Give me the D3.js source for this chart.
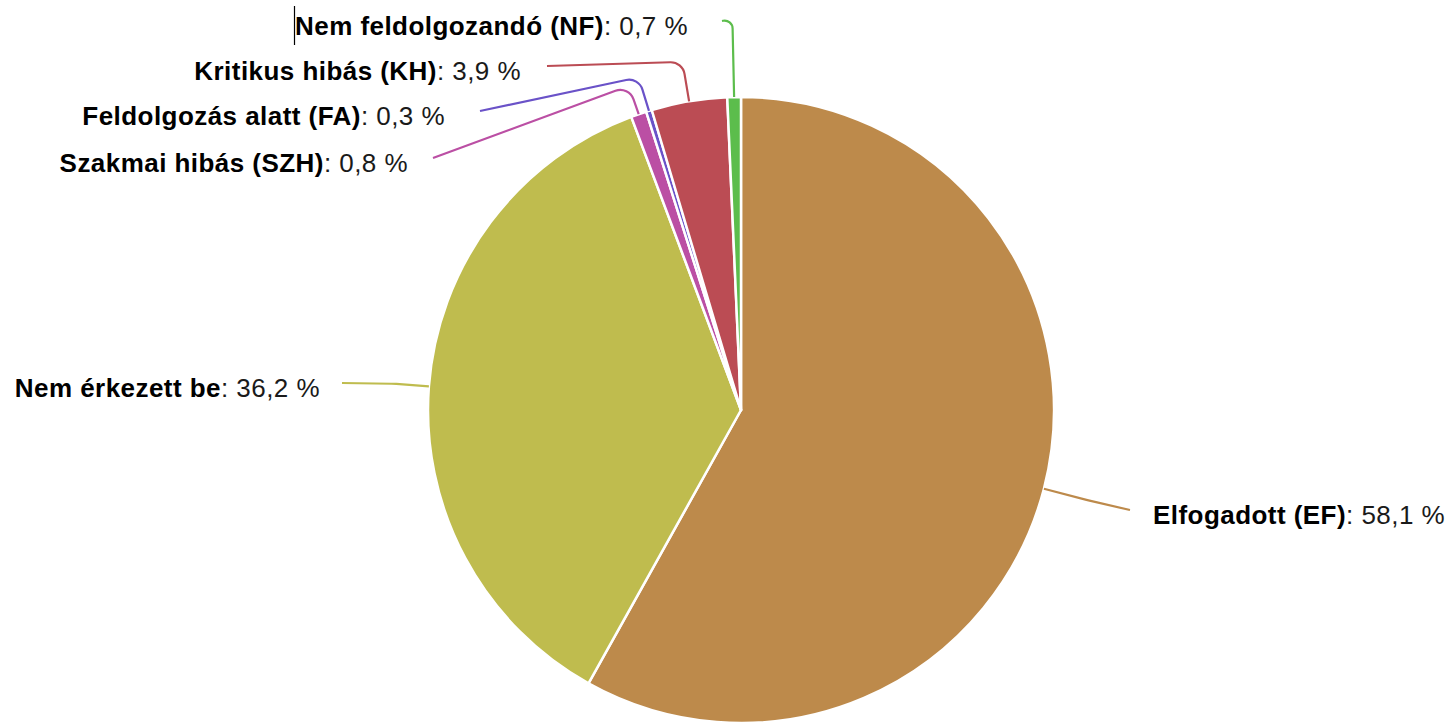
<!DOCTYPE html>
<html>
<head>
<meta charset="utf-8">
<script src="https://cdn.jsdelivr.net/npm/d3@7"></script>
<style>
  html, body { margin: 0; padding: 0; background: #fff; }
  svg { display: block; font-family: "Liberation Sans", Arial, sans-serif; }
</style>
</head>
<body>
<div id="chart"></div>
<script>
// data, clockwise from 12 o'clock
const categories = ["Elfogadott (EF)", "Nem érkezett be", "Szakmai hibás (SZH)",
                    "Feldolgozás alatt (FA)", "Kritikus hibás (KH)", "Nem feldolgozandó (NF)"];
const values = [58.1, 36.2, 0.8, 0.3, 3.9, 0.7];
const colors = ["#bd8a4b", "#bfbc4e", "#bb4fa4", "#6a52c8", "#bb4c54", "#5cbd4c"];

// label placement (text anchor x, baseline y, leader shape)
const labelX = [1153, 320, 408, 445, 521, 688];
const labelY = [524, 397, 172, 125, 80, 35];
const elbowLen = [45, 35, 30, 35, 40, 78];
const leaderGap = [-23, 22, 25, 35, 26, 34];
const cornerR = [80, 80, 14, 14, 14, 8];

const width = 1452, height = 725;
const cx = 741, cy = 410, radius = 313;
const fontSize = 26;

const svg = d3.select("#chart")
    .append("svg")
    .attr("width", width)
    .attr("height", height);

const data = categories.map((c, i) => ({
    name: c, value: values[i], color: colors[i],
    lx: labelX[i], ly: labelY[i], elbow: elbowLen[i], gap: leaderGap[i], cr: cornerR[i]
}));

const pie = d3.pie().sort(null).value(d => d.value);
const arcs = pie(data);

const arc = d3.arc().innerRadius(0).outerRadius(radius);

const g = svg.append("g").attr("transform", `translate(${cx},${cy})`);

g.selectAll("path.slice")
    .data(arcs)
    .enter()
    .append("path")
    .attr("class", "slice")
    .attr("d", arc)
    .attr("fill", d => d.data.color)
    .attr("stroke", "#fff")
    .attr("stroke-width", 2.5)
    .attr("stroke-linejoin", "round");

// leader lines: radial out from the slice edge, rounded corner, then to the label
function leader(d) {
    const a = (d.startAngle + d.endAngle) / 2;
    const sx = Math.sin(a), sy = -Math.cos(a);
    const x0 = sx * radius, y0 = sy * radius;
    const x1 = sx * (radius + d.data.elbow), y1 = sy * (radius + d.data.elbow);
    const x2 = d.data.lx + d.data.gap - cx, y2 = d.data.ly - 14 - cy;
    const p = d3.path();
    p.moveTo(x0, y0);
    p.arcTo(x1, y1, x2, y2, d.data.cr);
    p.lineTo(x2, y2);
    return p.toString();
}

g.selectAll("path.leader")
    .data(arcs)
    .enter()
    .append("path")
    .attr("class", "leader")
    .attr("d", leader)
    .attr("fill", "none")
    .attr("stroke", d => d.data.color)
    .attr("stroke-width", 2.2);

const fmt = v => d3.format(".1f")(v).replace(".", ",") + " %";

const labels = svg.selectAll("text.label")
    .data(arcs)
    .enter()
    .append("text")
    .attr("class", "label")
    .attr("x", d => d.data.lx)
    .attr("y", d => d.data.ly)
    .attr("text-anchor", d => (d.startAngle + d.endAngle) / 2 > Math.PI ? "end" : "start")
    .style("font-size", fontSize + "px")
    .style("letter-spacing", "0.45px")
    .style("fill", "#000");

labels.append("tspan")
    .style("font-weight", "bold")
    .text(d => d.data.name);

labels.append("tspan")
    .style("fill", "#1a1a1a")
    .text(d => ": " + fmt(d.data.value));

// stray text cursor visible in the original picture
svg.append("line")
    .attr("x1", 294.5).attr("x2", 294.5)
    .attr("y1", 6).attr("y2", 45)
    .attr("stroke", "#000")
    .attr("stroke-width", 1.2);
</script>
</body>
</html>
